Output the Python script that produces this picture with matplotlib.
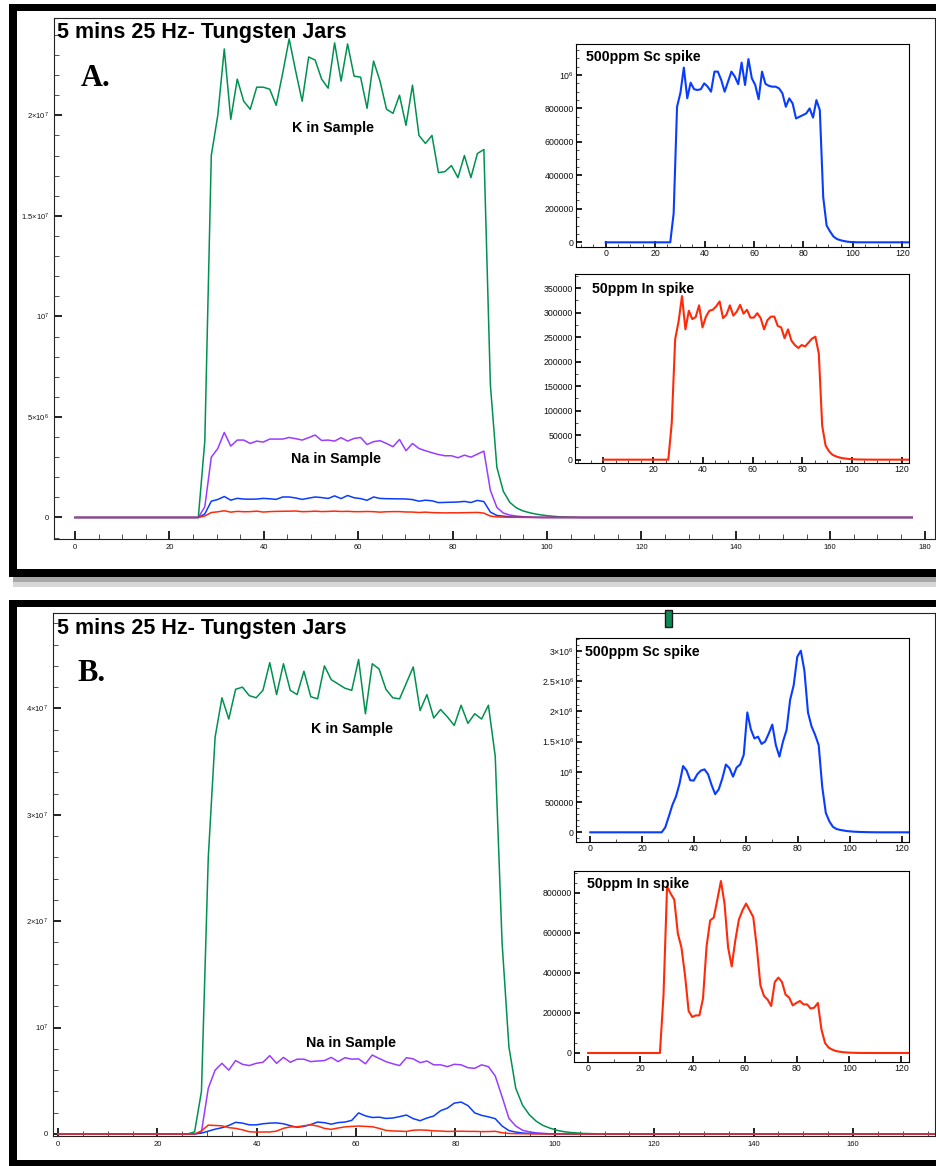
import numpy as np
import matplotlib
matplotlib.use('Agg')
import matplotlib.pyplot as plt
from matplotlib.patches import Rectangle
from matplotlib.ticker import MultipleLocator, FixedLocator, FixedFormatter

W, H = 937, 1166
plt.rcParams['font.family'] = ['Liberation Sans', 'DejaVu Sans']
plt.rcParams['mathtext.fontset'] = 'custom'
plt.rcParams['mathtext.rm'] = 'Liberation Sans'
plt.rcParams['mathtext.it'] = 'Liberation Sans:italic'
plt.rcParams['mathtext.bf'] = 'Liberation Sans:bold'

# ---------------- data (time step between readings, counts) ----------------
SAMPLE_STEP = 1.375
N_SAMPLES = 130
LEAD_ZEROS = 20

# Panel A (values in millions of counts), starting at reading 20
K_A = [3.8, 18.0, 20.0, 23.3, 19.8, 21.8, 20.7, 20.3, 21.4, 21.4,
       21.3, 20.5, 22.1, 23.8, 22.2, 20.7, 22.9, 22.75, 21.8, 21.35,
       23.6, 21.7, 23.55, 21.95, 21.9, 20.35, 22.7, 21.7, 20.3, 20.1,
       21.0, 19.5, 21.5, 19.0, 18.6, 19.0, 17.15, 17.2, 17.5, 16.9,
       18.0, 16.9, 18.1, 18.3, 6.6, 2.5, 1.3, 0.75, 0.48, 0.33,
       0.24, 0.17, 0.12, 0.08, 0.05, 0.03, 0.02, 0.01]
NA_A = [0.53, 3.0, 3.43, 4.23, 3.55, 3.85, 3.85, 3.68, 3.8, 3.75,
        3.9, 3.9, 3.9, 3.98, 3.92, 3.85, 3.97, 4.1, 3.83, 3.85,
        3.8, 3.97, 3.8, 3.93, 3.98, 3.63, 3.77, 3.82, 3.68, 3.52,
        3.88, 3.32, 3.68, 3.43, 3.32, 3.22, 3.13, 3.07, 3.07, 2.97,
        3.1, 3.0, 3.15, 3.3, 1.35, 0.5, 0.22, 0.12, 0.07, 0.04,
        0.02, 0.01]
SC_A = [0.173, 0.81, 0.894, 1.044, 0.861, 0.954, 0.915, 0.91, 0.915, 0.95,
        0.93, 0.90, 1.02, 1.02, 0.97, 0.90, 0.96, 1.02, 0.99, 0.945,
        1.074, 0.94, 1.095, 0.98, 0.94, 0.855, 1.02, 0.947, 0.935, 0.93,
        0.93, 0.92, 0.89, 0.81, 0.86, 0.83, 0.74, 0.75, 0.76, 0.77,
        0.80, 0.745, 0.85, 0.79, 0.27, 0.10, 0.065, 0.035, 0.02, 0.013,
        0.008, 0.004, 0.002, 0.001]
IN_A = [0.0748, 0.246, 0.282, 0.334, 0.266, 0.304, 0.287, 0.291, 0.315, 0.270,
        0.292, 0.304, 0.306, 0.313, 0.323, 0.289, 0.296, 0.315, 0.294, 0.302,
        0.316, 0.298, 0.306, 0.290, 0.290, 0.299, 0.289, 0.266, 0.285, 0.292,
        0.292, 0.273, 0.270, 0.248, 0.266, 0.243, 0.234, 0.228, 0.234, 0.231,
        0.239, 0.247, 0.251, 0.217, 0.069, 0.0285, 0.017, 0.010, 0.0068, 0.0045,
        0.003, 0.002, 0.0012, 0.0008, 0.0005, 0.0003, 0.0002, 0.0001]

# Panel B (values in millions of counts), starting at reading 20
K_B = [0.2, 4.0, 26.0, 37.3, 41.0, 39.0, 41.8, 42.0, 41.2, 41.0,
       41.7, 44.3, 41.3, 44.2, 41.7, 41.3, 43.5, 41.1, 40.9, 44.0,
       42.7, 42.3, 41.9, 41.7, 44.6, 39.5, 44.2, 43.7, 41.8, 41.0,
       40.9, 42.4, 43.9, 39.8, 41.3, 39.1, 39.9, 39.2, 38.4, 40.3,
       38.6, 39.5, 39.0, 40.3, 35.5, 18.0, 8.2, 4.3, 2.7, 1.8,
       1.2, 0.8, 0.55, 0.35, 0.22, 0.14, 0.09, 0.05, 0.03, 0.01]
NA_B = [0.0, 0.2, 4.3, 6.0, 6.64, 6.0, 6.9, 6.55, 6.43, 6.64,
        6.74, 7.36, 6.64, 7.2, 6.74, 7.03, 7.03, 6.8, 6.86, 6.9,
        7.2, 6.8, 7.17, 7.03, 7.06, 6.6, 7.42, 7.1, 6.8, 6.6,
        6.43, 7.17, 7.06, 6.7, 6.86, 6.5, 6.5, 6.33, 6.55, 6.5,
        6.23, 6.17, 6.5, 6.33, 5.45, 3.5, 1.47, 0.75, 0.35, 0.2,
        0.1, 0.05, 0.02, 0.01]
SC_B = [0.0, 0.08, 0.26, 0.45, 0.59, 0.80, 1.095, 1.02, 0.86, 0.855,
        0.96, 1.02, 1.04, 0.96, 0.78, 0.63, 0.71, 0.89, 1.12, 1.06,
        0.92, 1.07, 1.12, 1.28, 1.98, 1.70, 1.55, 1.58, 1.46, 1.50,
        1.63, 1.78, 1.44, 1.25, 1.50, 1.69, 2.19, 2.43, 2.90, 3.0,
        2.67, 1.98, 1.75, 1.61, 1.44, 0.75, 0.32, 0.18, 0.09, 0.055,
        0.04, 0.03, 0.02, 0.015, 0.01, 0.007, 0.005, 0.003, 0.002, 0.001]
IN_B = [0.0, 0.288, 0.833, 0.797, 0.767, 0.597, 0.527, 0.388, 0.210, 0.180,
        0.188, 0.188, 0.272, 0.533, 0.663, 0.677, 0.767, 0.860, 0.747, 0.527,
        0.433, 0.563, 0.667, 0.713, 0.747, 0.713, 0.680, 0.527, 0.338, 0.285,
        0.267, 0.235, 0.355, 0.377, 0.355, 0.292, 0.277, 0.238, 0.250, 0.260,
        0.243, 0.243, 0.222, 0.227, 0.250, 0.117, 0.050, 0.027, 0.017, 0.010,
        0.0067, 0.004, 0.0025, 0.0015, 0.001, 0.0006, 0.0003, 0.0001]

TITLE = "5 mins 25 Hz- Tungsten Jars"
PANEL_LABELS = ["A.", "B."]
SERIES_LABELS = ["K in Sample", "Na in Sample"]
INSET_TITLES = ["500ppm Sc spike", "50ppm In spike"]

MAIN_A_YTICKS = [0, 5e6, 1e7, 1.5e7, 2e7]
MAIN_A_YLABELS = ['0', r'$5{\times}10^{6}$', r'$10^{7}$', r'$1.5{\times}10^{7}$', r'$2{\times}10^{7}$']
MAIN_B_YTICKS = [0, 1e7, 2e7, 3e7, 4e7]
MAIN_B_YLABELS = ['0', r'$10^{7}$', r'$2{\times}10^{7}$', r'$3{\times}10^{7}$', r'$4{\times}10^{7}$']
SC_A_YTICKS = [0, 2e5, 4e5, 6e5, 8e5, 1e6]
SC_A_YLABELS = ['0', '200000', '400000', '600000', '800000', r'$10^{6}$']
IN_A_YTICKS = [0, 5e4, 1e5, 1.5e5, 2e5, 2.5e5, 3e5, 3.5e5]
IN_A_YLABELS = ['0', '50000', '100000', '150000', '200000', '250000', '300000', '350000']
SC_B_YTICKS = [0, 5e5, 1e6, 1.5e6, 2e6, 2.5e6, 3e6]
SC_B_YLABELS = ['0', '500000', r'$10^{6}$', r'$1.5{\times}10^{6}$', r'$2{\times}10^{6}$',
                r'$2.5{\times}10^{6}$', r'$3{\times}10^{6}$']
IN_B_YTICKS = [0, 2e5, 4e5, 6e5, 8e5]
IN_B_YLABELS = ['0', '200000', '400000', '600000', '800000']

C_K = '#009150'
C_NA = '#9a3cff'
C_SC = '#0a3cff'
C_IN = '#ff2a0a'


def series(active):
    vals = [0.0] * LEAD_ZEROS + list(active)
    vals += [0.0] * (N_SAMPLES - len(vals))
    return np.array(vals) * 1e6


t = np.arange(N_SAMPLES) * SAMPLE_STEP

fig = plt.figure(figsize=(W / 100, H / 100), dpi=100)
fig.patch.set_facecolor('white')


def rect_px(x0, y0, x1, y1, **kw):
    r = Rectangle((x0 / W, 1 - y1 / H), (x1 - x0) / W, (y1 - y0) / H,
                  transform=fig.transFigure, **kw)
    fig.add_artist(r)


def axes_px(l, t_, r, b, **kw):
    return fig.add_axes([l / W, 1 - b / H, (r - l) / W, (b - t_) / H], **kw)


def text_px(x, y, s, **kw):
    fig.text(x / W, 1 - y / H, s, **kw)


# frames with shadows
for (y0, y1) in [(4, 577), (600, 1168)]:
    rect_px(13, y1, 950, y1 + 10, facecolor='#d6d6d6', edgecolor='none', zorder=-12)
    rect_px(13, y1, 950, y1 + 5, facecolor='#a8a8a8', edgecolor='none', zorder=-11)
    rect_px(9, y0, 950, y1, facecolor='black', edgecolor='none', zorder=-10)
    rect_px(17, y0 + 7, 950, y1 - 8, facecolor='white', edgecolor='none', zorder=-9)


def style_axes(ax, major_len=5, minor_len=3, labelsize=5.5, pad=3):
    for s in ['top', 'right', 'left', 'bottom']:
        ax.spines[s].set_linewidth(0.8)
        ax.spines[s].set_color('#222222')
    ax.tick_params(which='major', direction='in', length=major_len, width=1.3,
                   labelsize=labelsize, pad=pad, colors='#111111',
                   top=False, right=False)
    ax.tick_params(which='minor', direction='in', length=minor_len, width=0.6,
                   top=False, right=False, colors='#333333')


def main_panel(box, xlim, ylim, yticks, ylabels, yminor, data):
    ax = axes_px(*box)
    ax.set_facecolor('white')
    k, na, sc, inn = data
    ax.plot(t, k, color=C_K, lw=1.1)
    ax.plot(t, na, color=C_NA, lw=1.1)
    ax.plot(t, sc, color=C_SC, lw=1.1)
    ax.plot(t, inn, color=C_IN, lw=1.1)
    ax.set_xlim(*xlim)
    ax.set_ylim(*ylim)
    ax.xaxis.set_major_locator(MultipleLocator(20))
    ax.xaxis.set_minor_locator(MultipleLocator(5))
    ax.yaxis.set_major_locator(FixedLocator(yticks))
    ax.yaxis.set_major_formatter(FixedFormatter(ylabels))
    ax.yaxis.set_minor_locator(MultipleLocator(yminor))
    style_axes(ax, major_len=6, minor_len=3.5, labelsize=5.5, pad=3.5)
    return ax


def inset(box, vals, color, xlim, ylim, yticks, ylabels, yminor, xminor):
    ax = axes_px(*box)
    ax.set_zorder(3)
    ax.set_facecolor('white')
    ax.plot(t, vals, color=color, lw=1.5)
    ax.set_xlim(*xlim)
    ax.set_ylim(*ylim)
    ax.xaxis.set_major_locator(MultipleLocator(20))
    ax.xaxis.set_minor_locator(MultipleLocator(xminor))
    ax.yaxis.set_major_locator(FixedLocator(yticks))
    ax.yaxis.set_major_formatter(FixedFormatter(ylabels))
    ax.yaxis.set_minor_locator(MultipleLocator(yminor))
    style_axes(ax, major_len=4.5, minor_len=2.5, labelsize=6.3, pad=1.5)
    for s in ['top', 'right', 'left', 'bottom']:
        ax.spines[s].set_color('black')
    return ax


kA, naA, scA, inA = series(K_A), series(NA_A), series(SC_A), series(IN_A)
kB, naB, scB, inB = series(K_B), series(NA_B), series(SC_B), series(IN_B)

main_panel((54, 18, 935, 539), (-4.45, 182.2), (-1.07e6, 2.484e7),
           MAIN_A_YTICKS, MAIN_A_YLABELS, 1e6, (kA, naA, scA, inA))
main_panel((53, 613, 935, 1136), (-1.0, 176.5), (-0.19e6, 4.897e7),
           MAIN_B_YTICKS, MAIN_B_YLABELS, 2e6, (kB, naB, scB, inB))

inset((576, 44, 909, 247), scA, C_SC, (-12.0, 122.7), (-2.8e4, 1.185e6),
      SC_A_YTICKS, SC_A_YLABELS, 5e4, 5)
inset((575, 274, 909, 463), inA, C_IN, (-11.4, 122.9), (-6.8e3, 3.79e5),
      IN_A_YTICKS, IN_A_YLABELS, 2.5e4, 5)
inset((576, 638, 909, 842), scB, C_SC, (-5.5, 122.8), (-1.6e5, 3.21e6),
      SC_B_YTICKS, SC_B_YLABELS, 1e5, 10)
inset((574, 871, 909, 1062), inB, C_IN, (-5.4, 122.9), (-4.5e4, 9.1e5),
      IN_B_YTICKS, IN_B_YLABELS, 5e4, 10)

# texts
bold = dict(fontweight='bold', color='black', va='baseline')
text_px(57, 38, TITLE, fontsize=15.5, ha='left', **bold)
text_px(57, 634, TITLE, fontsize=15.5, ha='left', **bold)
serif = dict(family=['Liberation Serif', 'DejaVu Serif'], fontweight='bold',
             fontsize=22, ha='left', va='baseline', color='black')
text_px(81, 86, PANEL_LABELS[0], **serif)
text_px(77, 681, PANEL_LABELS[1], **serif)
text_px(333, 132, SERIES_LABELS[0], fontsize=10.3, ha='center', **bold)
text_px(336.5, 462.5, SERIES_LABELS[1], fontsize=10.3, ha='center', **bold)
text_px(352.5, 733, SERIES_LABELS[0], fontsize=10.3, ha='center', **bold)
text_px(351, 1047.5, SERIES_LABELS[1], fontsize=10.3, ha='center', **bold)

ins_txt = dict(fontsize=10.2, ha='left', zorder=10, **bold)
fig.text(586 / W, 1 - 60.5 / H, INSET_TITLES[0], **ins_txt)
fig.text(592 / W, 1 - 292.5 / H, INSET_TITLES[1], **ins_txt)
fig.text(585 / W, 1 - 656 / H, INSET_TITLES[0], **ins_txt)
fig.text(587 / W, 1 - 888 / H, INSET_TITLES[1], **ins_txt)
for txt in fig.texts[-4:]:
    txt.set_zorder(10)

# small green marker at the top of panel B
rect_px(665, 610, 672, 627, facecolor='#0f8a55', edgecolor='#1a1a1a', lw=1.0, zorder=5)

fig.savefig('out.png', dpi=100, facecolor='white')
